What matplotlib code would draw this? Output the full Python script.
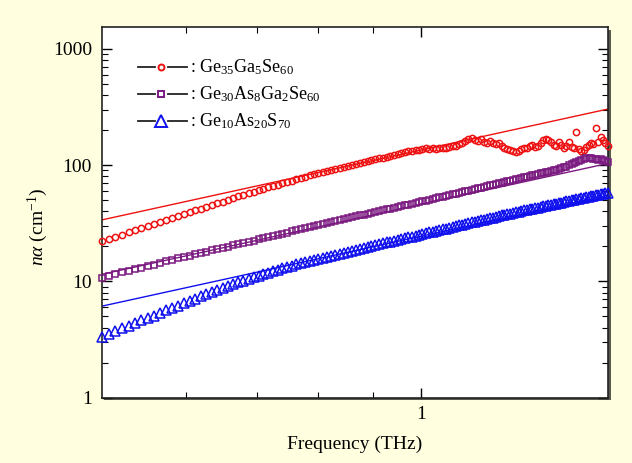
import matplotlib
matplotlib.use("Agg")
import matplotlib.pyplot as plt
from matplotlib.ticker import LogLocator, FuncFormatter, NullFormatter
from matplotlib.patches import Rectangle

plt.rcParams['font.family'] = ['Liberation Serif', 'DejaVu Serif']
plt.rcParams['mathtext.fontset'] = 'custom'
plt.rcParams['mathtext.rm'] = 'Liberation Serif'
plt.rcParams['mathtext.it'] = 'Liberation Serif:italic'

freq = [0.5000,0.5075,0.5150,0.5225,0.5300,0.5375,0.5450,0.5525,0.5600,0.5675,
        0.5750,0.5825,0.5900,0.5975,0.6050,0.6125,0.6200,0.6275,0.6350,0.6425,
        0.6500,0.6575,0.6650,0.6725,0.6800,0.6875,0.6950,0.7025,0.7100,0.7175,
        0.7250,0.7325,0.7400,0.7475,0.7550,0.7625,0.7700,0.7775,0.7850,0.7925,
        0.8000,0.8075,0.8150,0.8225,0.8300,0.8375,0.8450,0.8525,0.8600,0.8675,
        0.8750,0.8825,0.8900,0.8975,0.9050,0.9125,0.9200,0.9275,0.9350,0.9425,
        0.9500,0.9575,0.9650,0.9725,0.9800,0.9875,0.9950,1.0025,1.0100,1.0175,
        1.0250,1.0325,1.0400,1.0475,1.0550,1.0625,1.0700,1.0775,1.0850,1.0925,
        1.1000,1.1075,1.1150,1.1225,1.1300,1.1375,1.1450,1.1525,1.1600,1.1675,
        1.1750,1.1825,1.1900,1.1975,1.2050,1.2125,1.2200,1.2275,1.2350,1.2425,
        1.2500,1.2575,1.2650,1.2725,1.2800,1.2875,1.2950,1.3025,1.3100,1.3175,
        1.3250,1.3325,1.3400,1.3475,1.3550,1.3625,1.3700,1.3775,1.3850,1.3925,
        1.4000,1.4075,1.4150,1.4225,1.4300,1.4375,1.4450,1.4525,1.4600,1.4675,
        1.4750,1.4825,1.4900,1.4975]

na_gegase = [22.1,23.2,24.2,25.3,26.4,27.6,28.8,29.9,31.1,32.4,
             33.8,35.1,36.4,37.9,39.3,40.8,42.2,43.8,45.4,47.0,
             48.6,50.4,52.2,53.9,55.7,57.5,59.2,61.0,62.7,64.5,
             66.3,68.0,69.8,71.7,73.6,75.5,77.4,79.4,81.4,83.3,
             85.3,87.1,88.9,90.7,92.5,94.4,96.3,98.1,100.0,102.0,
             103.9,105.9,107.8,109.9,111.9,114.0,116.0,118.1,120.3,122.4,
             124.5,126.7,128.9,131.0,133.2,135.6,134.9,137.8,139.5,138.0,
             140.5,138.5,141.0,139.0,141.5,143.0,147.0,145.0,152.0,156.0,
             160.0,166.0,172.0,165.0,160.0,167.0,158.0,154.0,161.0,156.0,
             151.0,154.0,147.0,141.0,138.0,135.0,131.0,129.0,133.0,137.0,
             141.0,139.0,145.0,148.0,144.0,146.0,156.0,164.0,168.0,163.0,
             157.0,150.0,146.0,158.0,149.0,141.0,147.0,157.0,144.0,140.0,
             191.0,137.0,131.0,136.0,142.0,149.0,154.0,151.0,207.0,158.0,
             175.0,165.0,155.0,146.0]

na_geasgase = [10.79,11.17,11.56,11.94,12.32,12.73,13.15,13.56,13.97,14.41,
               14.86,15.30,15.74,16.19,16.64,17.08,17.53,18.00,18.47,18.94,
               19.41,19.91,20.40,20.90,21.39,21.92,22.44,22.97,23.49,24.05,
               24.61,25.16,25.72,26.31,26.90,27.49,28.08,28.69,29.31,29.92,
               30.53,31.18,31.82,32.47,33.11,33.75,34.39,35.03,35.67,36.31,
               36.95,37.59,38.23,38.90,39.57,40.23,40.90,41.59,42.28,42.96,
               43.65,44.36,45.07,45.78,46.49,47.23,47.98,48.72,49.46,50.27,
               51.09,51.90,52.71,53.56,54.40,55.25,56.09,56.96,57.82,58.69,
               59.55,60.44,61.34,62.23,63.12,64.05,64.97,65.90,66.83,67.77,
               68.72,69.66,70.60,71.58,72.55,73.53,74.5,75.5,76.5,77.5,
               78.5,79.5,80.6,81.6,82.6,83.7,84.8,85.8,86.9,88.0,
               89.1,90.1,91.2,92.7,94.1,95.6,97.0,99.4,101.7,104.1,
               106.4,108.8,111.3,113.7,116.1,115.4,114.2,113.0,112.2,110.5,
               111.8,109.6,108.4,107.2]

na_geass = [3.35,3.55,3.75,3.95,4.16,4.39,4.62,4.86,5.09,5.36,
            5.64,5.91,6.18,6.49,6.80,7.11,7.42,7.77,8.12,8.47,
            8.82,9.16,9.50,9.83,10.17,10.52,10.87,11.21,11.56,11.91,
            12.25,12.60,12.95,13.30,13.64,13.99,14.33,14.67,15.01,15.35,
            15.69,16.02,16.35,16.68,17.01,17.35,17.68,18.02,18.35,18.70,
            19.05,19.40,19.75,20.12,20.49,20.85,21.22,21.60,21.98,22.35,
            22.73,23.12,23.52,23.91,24.30,24.71,25.12,25.52,25.93,26.35,
            26.77,27.19,27.61,28.05,28.49,28.92,29.36,29.81,30.26,30.71,
            31.16,31.63,32.09,32.56,33.02,33.50,33.97,34.45,34.93,35.42,
            35.91,36.39,36.88,37.37,37.85,38.34,38.82,39.29,39.76,40.23,
            40.70,41.18,41.66,42.13,42.61,43.11,43.60,44.10,44.60,45.10,
            45.60,46.10,46.60,47.12,47.63,48.15,48.66,49.18,49.71,50.23,
            50.75,51.29,51.82,52.36,52.89,53.44,53.99,54.55,55.10,55.66,
            56.21,56.77,57.32,57.90]

fit_freq = [0.5, 1.5]
fit_gegase = [33.75, 303.75]
fit_geasgase = [11.5, 103.5]
fit_geass = [6.12, 55.1]

labels = [r": Ge$_{35}$Ga$_{5}$Se$_{60}$",
          r": Ge$_{30}$As$_{8}$Ga$_{2}$Se$_{60}$",
          r": Ge$_{10}$As$_{20}$S$_{70}$"]
colors = ["#ee1111", "#7a1a80", "#1010ee"]
markers = ["o", "s", "^"]
msizes = [4.5, 4.3, 7.0]
leg_msizes = [4.3, 4.0, 8.0]

W, H = 632, 463
fig = plt.figure(figsize=(W / 100, H / 100), dpi=100)
fig.patch.set_facecolor("#ffffe0")

ax_l, ax_r, ax_t, ax_b = 101.7, 608.3, 27.3, 397.7
pos = [ax_l / W, 1 - ax_b / H, (ax_r - ax_l) / W, (ax_b - ax_t) / H]
# drop shadow behind axes frame
fig.patches.append(Rectangle((pos[0] + 2.5 / W, pos[1] - 2.5 / H), pos[2], pos[3],
                             transform=fig.transFigure, facecolor="#5a5a50",
                             edgecolor="none", zorder=0))
ax = fig.add_axes(pos, zorder=1)
ax.set_facecolor("white")

ax.set_xscale("log")
ax.set_yscale("log")

fits = [fit_gegase, fit_geasgase, fit_geass]
series = [na_gegase, na_geasgase, na_geass]
for fv, c in zip(fits, colors):
    ax.plot(fit_freq, fv, color=c, lw=1.0, zorder=2)
for s, c, m, ms in zip(series, colors, markers, msizes):
    ax.plot(freq, s, linestyle="none", marker=m, ms=ms, mfc="none", mec=c,
            mew=1.1, zorder=3, clip_on=False)

ax.set_xlim(0.5, 1.5)
ax.set_ylim(1, 1530)

ax.xaxis.set_major_locator(LogLocator(base=10))
ax.xaxis.set_minor_locator(LogLocator(base=10, subs=[0.6, 0.7, 0.8, 0.9]))
ax.yaxis.set_major_locator(LogLocator(base=10))
ax.yaxis.set_minor_locator(LogLocator(base=10, subs=[2, 3, 4, 5, 6, 7, 8, 9]))
ax.xaxis.set_major_formatter(FuncFormatter(lambda v, p: "%g" % v))
ax.yaxis.set_major_formatter(FuncFormatter(lambda v, p: "%g" % v))
ax.xaxis.set_minor_formatter(NullFormatter())
ax.yaxis.set_minor_formatter(NullFormatter())
ax.tick_params(which="both", direction="in", top=True, right=True, colors="black",
               labelsize=14)
ax.tick_params(which="major", length=7, width=1.0, pad=6)
ax.tick_params(which="minor", length=4, width=0.8)
ax.tick_params(axis="y", which="major", pad=7)
for sp in ax.spines.values():
    sp.set_linewidth(1.2)
    sp.set_color("#222222")

ax.set_xlabel("Frequency (THz)", fontsize=14, labelpad=9)
ax.set_ylabel(r"$n\alpha$ (cm$^{-1}$)", fontsize=14)
ax.yaxis.set_label_coords(-0.102, 0.46)

# legend drawn manually
ax_w = ax_r - ax_l
ax_h = ax_b - ax_t
def axx(px):
    return (px - ax_l) / ax_w
def axy(py):
    return (ax_b - py) / ax_h
rows_y = [66.7, 94.0, 120.7]
for ry, c, m, ms, lab in zip(rows_y, colors, markers, leg_msizes, labels):
    yy = axy(ry)
    ax.plot([axx(138.3), axx(155.0)], [yy, yy], color="#222222", lw=1.3,
            transform=ax.transAxes, zorder=4)
    ax.plot([axx(168.0), axx(186.7)], [yy, yy], color="#222222", lw=1.3,
            transform=ax.transAxes, zorder=4)
    ax.plot([axx(161.3)], [yy], marker=m, ms=ms, mfc="none", mec=c, mew=1.4,
            transform=ax.transAxes, zorder=4)
    ax.text(axx(190.5), yy, lab, transform=ax.transAxes, fontsize=13,
            va="center", ha="left", color="black")

fig.savefig("out.png", dpi=100, facecolor=fig.get_facecolor())
